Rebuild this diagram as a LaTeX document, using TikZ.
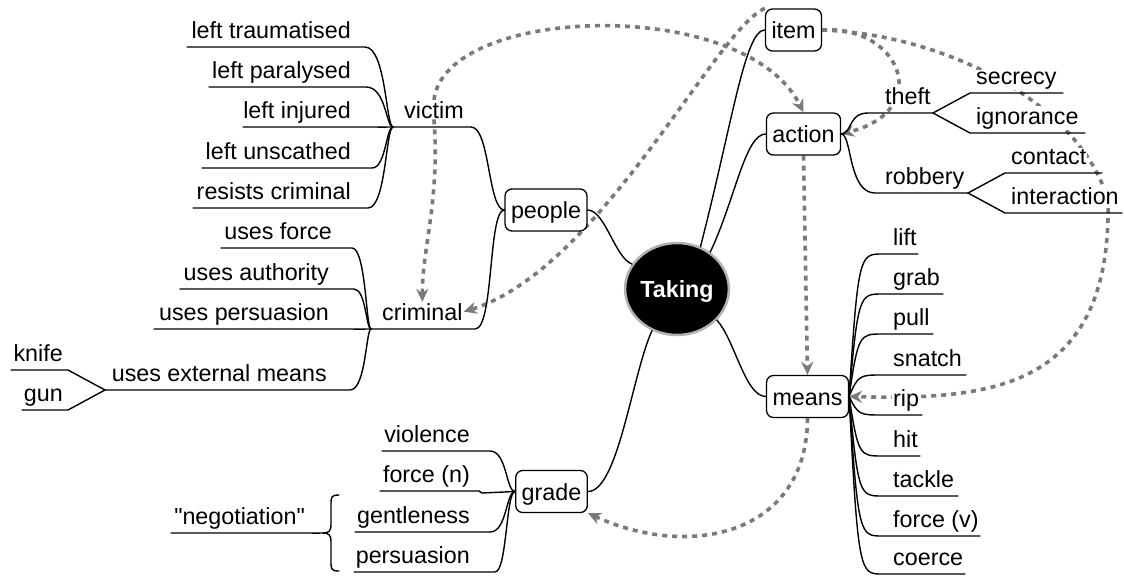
\documentclass[tikz,border=0pt]{standalone}
\usepackage{fontspec}
\setmainfont{Liberation Sans}[Ligatures=TeXOff]
\usetikzlibrary{arrows.meta,shapes.geometric}
\pgfdeclarelayer{paper}
\pgfdeclarelayer{bg}
\pgfsetlayers{paper,bg,main}
\definecolor{dgray}{HTML}{7A7A7A}
\begin{document}
\begin{tikzpicture}[x=1pt,y=-1pt,
  every node/.style={font=\fontsize{23.3}{28}\selectfont},
  branch/.style={line width=1.4pt, line cap=round, line join=round},
  lbl/.style={inner sep=1pt, fill=white},
  topic/.style={draw, line width=1.3pt, rounded corners=7pt, fill=white,
    inner xsep=6pt, inner ysep=0pt, minimum height=42pt,
    text height=21pt, text depth=4pt},
  dlink/.style={draw=dgray, line width=3.6pt, dash pattern=on 5pt off 5pt,
    -{Stealth[length=13pt,width=12pt]}},
]
\begin{pgfonlayer}{paper}
\fill[white] (0,0) rectangle (1124,576);
\end{pgfonlayer}
\useasboundingbox (0,0) rectangle (1124,576);

% central topic and main branches
\node[ellipse, fill=black, draw=gray!60, line width=2.5pt, minimum width=100pt,
  minimum height=92pt, inner sep=0pt, text=white,
  font=\fontsize{23.3}{28}\selectfont\bfseries, text depth=0.5pt] (taking) at (677,289) {Taking};
\node[topic] (people) at (546,210) {people};
\node[topic] (grade)  at (551.5,491.5) {grade};
\node[topic] (item)   at (793.5,30) {item};
\node[topic] (action) at (803.5,134) {action};
\node[topic] (means)  at (807.5,396.5) {means};

\draw[branch] (taking.151) .. controls (615,258) and (605,210) .. (people.east);
\draw[branch] (taking.61)  .. controls (733,120) and (745,30) .. (item.west);
\draw[branch] (taking.48)  .. controls (735,200) and (745,134) .. (action.west);
\draw[branch] (taking.-38) .. controls (735,340) and (745,396.5) .. (means.west);
\draw[branch] (taking.-121) .. controls (632,375) and (618,491.5) .. (grade.east);

% people: victim
\coordinate (vJ) at (393,127);
\foreach \nm/\txt/\xs/\xe/\yc in {lt/left traumatised/187/365/47, lp/left paralysed/209/366/87,
    lu/left unscathed/202/372/168, rc/resists criminal/193/368/208}{
  \coordinate (\nm-s) at (\xs,\yc);
  \draw[branch] (\nm-s) -- (\xe,\yc) .. controls (386,\yc) and (386,127) .. (vJ);
  \node[lbl, anchor=base east] (\nm) at (352,\yc-9) {\txt};
}
\coordinate (li-s) at (243,127);
\draw[branch] (li-s) -- (375,127) .. controls (382,127.2) and (386,127) .. (vJ);
\node[lbl, anchor=base east] (li) at (352,118) {left injured};
\draw[branch] (vJ) -- (471,127) .. controls (490,127) and (488,210) .. (people.west);
\node[lbl, anchor=base west] (victim) at (403,118) {victim};

% people: criminal
\coordinate (cJ) at (371,329);
\foreach \nm/\txt/\xs/\xe/\yc/\xr in {uf/uses force/221/352/248/333, ua/uses authority/180/354/289/330,
    ue/uses external means/105/350/390/328}{
  \coordinate (\nm-s) at (\xs,\yc);
  \draw[branch] (\nm-s) -- (\xe,\yc) .. controls (366,\yc) and (366,329) .. (cJ);
  \node[lbl, anchor=base east] (\nm) at (\xr,\yc-9) {\txt};
}
\coordinate (up-s) at (154,329);
\draw[branch] (up-s) -- (352,329) .. controls (360,329.2) and (365,329) .. (cJ);
\node[lbl, anchor=base east] (up) at (330,320) {uses persuasion};
\draw[branch] (cJ) -- (475,329) .. controls (494,329) and (488,210) .. (people.west);
\node[lbl, anchor=base west] (criminal) at (381,320) {criminal};

% external means
\coordinate (knife-s) at (11,370);
\coordinate (gun-s) at (22,410);
\draw[branch] (knife-s) -- (68,370) -- (ue-s);
\draw[branch] (gun-s) -- (68,410) -- (ue-s);
\node[lbl, anchor=base east] (knife) at (64,361) {knife};
\node[lbl, anchor=base east] (gun) at (64,401) {gun};

% grade
\foreach \nm/\txt/\xs/\xe/\yc in {vi/violence/382/490/451, ge/gentleness/355/490/532, pe/persuasion/354/495/572}{
  \coordinate (\nm-s) at (\xs,\yc);
  \draw[branch] (\nm-s) -- (\xe,\yc) .. controls (507,\yc) and (506,491.5) .. (grade.west);
  \node[lbl, anchor=base east] (\nm) at (471,\yc-9) {\txt};
}
\coordinate (fn-s) at (380,491);
\draw[branch] (fn-s) -- (479,491) -- (482,493) -- (grade.west);
\node[lbl, anchor=base east] (fn) at (471,482) {force (n)};

% "negotiation" grouping brace
\coordinate (neg-s) at (171,533);
\coordinate (brace) at (323,533);
\draw[branch] (neg-s) -- (310,533) .. controls (316,533.2) and (320,533) .. (brace);
\draw[branch] (339,495) .. controls (331,495) and (331,497) .. (331,505) -- (331,524)
  .. controls (331,531) and (329,533) .. (brace)
  .. controls (329,533) and (331,535) .. (331,542) -- (331,561)
  .. controls (331,569) and (331,571) .. (339,571);
\node[lbl, anchor=base east] (neg) at (306,524) {"negotiation"};

% action: theft and robbery
\coordinate (theftB) at (933,113);
\coordinate (robB) at (968,193);
\draw[branch] (action.east) .. controls (852,134) and (848,113) .. (868,113) -- (theftB);
\draw[branch] (action.east) .. controls (852,134) and (848,193) .. (875,193) -- (robB);
\coordinate (secrecy-e) at (1063,93);
\coordinate (ignorance-e) at (1085,133);
\coordinate (contact-e) at (1102,173);
\coordinate (interaction-e) at (1122,213);
\draw[branch] (theftB) -- (970,93) -- (secrecy-e);
\draw[branch] (theftB) -- (970,133) -- (ignorance-e);
\draw[branch] (robB) -- (1005,173) -- (contact-e);
\draw[branch] (robB) -- (1005,213) -- (interaction-e);
\node[lbl, anchor=base west] (theft) at (884,104) {theft};
\node[lbl, anchor=base west] (robbery) at (884,184) {robbery};
\node[lbl, anchor=base west] (secrecy) at (975,84) {secrecy};
\node[lbl, anchor=base west] (ignorance) at (975,124) {ignorance};
\node[lbl, anchor=base west] (contact) at (1010,164) {contact};
\node[lbl, anchor=base west] (interaction) at (1010,204) {interaction};

% means
\foreach \nm/\txt/\xe/\yc in {lift/lift/918/254, grab/grab/943/294, pull/pull/933/334,
    snatch/snatch/966/375, rip/rip/922/415, hit/hit/920/456, tackle/tackle/958/496,
    forcev/force (v)/980/536, coerce/coerce/965/574}{
  \coordinate (\nm-e) at (\xe,\yc);
  \draw[branch] (means.east) .. controls (858,\yc) and (860,\yc) .. (882,\yc) -- (\nm-e);
  \node[lbl, anchor=base west] (\nm) at (892,\yc-9) {\txt};
}

% cross links, drawn beneath the labels
\begin{pgfonlayer}{bg}
\draw[dlink] (victim.north) .. controls (445,5) and (745,-5) .. (action.north);
\draw[dlink] (victim.south) .. controls (440,200) and (422,250) .. (criminal.north);
\draw[dlink] (item.north west) .. controls (715,30) and (600,270) .. (criminal.east);
\draw[dlink] (item.east) .. controls (900,25) and (935,110) .. (action.east);
\draw[dlink] (item.east) .. controls (950,35) and (1080,105) .. (1108,200)
  .. controls (1112,390) and (990,400) .. (means.east);
\draw[dlink] (action.south) -- (means.north);
\draw[dlink] (means.south) .. controls (807,535) and (690,560) .. (grade.south east);
\end{pgfonlayer}
\end{tikzpicture}
\end{document}
